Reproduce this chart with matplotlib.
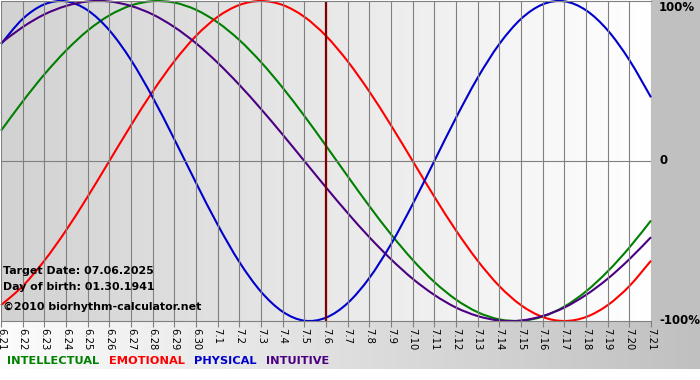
import numpy as np
import matplotlib.pyplot as plt
from matplotlib.colors import LinearSegmentedColormap
from matplotlib.patches import Rectangle, PathPatch
from matplotlib.path import Path

# day labels along the bottom (6.21 .. 7.21)
days = ['6.21', '6.22', '6.23', '6.24', '6.25', '6.26', '6.27', '6.28', '6.29', '6.30',
        '7.1', '7.2', '7.3', '7.4', '7.5', '7.6', '7.7', '7.8', '7.9', '7.10',
        '7.11', '7.12', '7.13', '7.14', '7.15', '7.16', '7.17', '7.18', '7.19', '7.20', '7.21']

# cycle values per day, -1 .. 1
intellectual = [0.189, 0.372, 0.541, 0.690, 0.815, 0.910, 0.972, 0.999, 0.990, 0.945,
                0.866, 0.756, 0.618, 0.458, 0.282, 0.095, -0.095, -0.282, -0.458, -0.618,
                -0.756, -0.866, -0.945, -0.990, -0.999, -0.972, -0.910, -0.815, -0.690, -0.541,
                -0.372]
emotional = [-0.901, -0.782, -0.623, -0.434, -0.223, 0.0, 0.223, 0.434, 0.623, 0.782,
             0.901, 0.975, 1.0, 0.975, 0.901, 0.782, 0.623, 0.434, 0.223, 0.0,
             -0.223, -0.434, -0.623, -0.782, -0.901, -0.975, -1.0, -0.975, -0.901, -0.782,
             -0.623]
physical = [0.731, 0.888, 0.979, 0.998, 0.942, 0.817, 0.631, 0.398, 0.136, -0.136,
            -0.398, -0.631, -0.817, -0.942, -0.998, -0.979, -0.888, -0.731, -0.520, -0.270,
            0.0, 0.270, 0.520, 0.731, 0.888, 0.979, 0.998, 0.942, 0.817, 0.631,
            0.398]
intuitive = [0.736, 0.837, 0.916, 0.969, 0.997, 0.997, 0.969, 0.916, 0.837, 0.736,
             0.614, 0.476, 0.325, 0.165, 0.0, -0.165, -0.325, -0.476, -0.614, -0.736,
             -0.837, -0.916, -0.969, -0.997, -0.997, -0.969, -0.916, -0.837, -0.736, -0.614,
             -0.476]

target_day = '7.6'
info_lines = ['Target Date: 07.06.2025', 'Day of birth: 01.30.1941',
              '\u00a92010 biorhythm-calculator.net']
y_labels = [(1, '100%'), (0, '0'), (-1, '-100%')]

series = [('INTELLECTUAL', intellectual, '#008000'),
          ('EMOTIONAL', emotional, '#ff0000'),
          ('PHYSICAL', physical, '#0000cc'),
          ('INTUITIVE', intuitive, '#4b0082')]


def spline_path(xs, ys):
    # smooth (catmull-rom style) bezier path passing through every point
    p = np.column_stack([xs, ys]).astype(float)
    ext = np.vstack([p[0], p, p[-1]])
    verts = [p[0]]
    codes = [Path.MOVETO]
    for i in range(len(p) - 1):
        p0, p1, p2, p3 = ext[i], ext[i + 1], ext[i + 2], ext[i + 3]
        verts += [p1 + (p2 - p0) / 6, p2 - (p3 - p1) / 6, p2]
        codes += [Path.CURVE4] * 3
    return Path(verts, codes)


W, H = 700, 380
fig = plt.figure(figsize=(W / 100, H / 100), dpi=100)
fig.patch.set_facecolor('white')

# background panels in pixel coords
bg = fig.add_axes([0, 0, 1, 1])
grad = np.linspace(0, 1, 256)[None, :]
bg.imshow(grad, cmap=LinearSegmentedColormap.from_list('p', ['#d2d2d2', '#ffffff']),
          extent=[1, 651, 321, 1], aspect='auto')
bg.imshow(grad, cmap=LinearSegmentedColormap.from_list('b', ['#fcfcfc', '#c0c0c0']),
          extent=[0, W, 369, 321], aspect='auto')
bg.add_patch(Rectangle((651, 0), 49, 321, color='#c0c0c0', lw=0))
bg.set_xlim(0, W)
bg.set_ylim(H, 0)
bg.axis('off')

ax = fig.add_axes([1 / W, 59 / H, 650 / W, 320 / H])
ax.patch.set_alpha(0)
x = np.arange(len(days))
ax.set_xlim(0, len(days) - 1)
ax.set_ylim(-1, 1)

ax.set_xticks(x)
ax.set_xticklabels(days)
ax.grid(axis='x', color='#808080', lw=0.8)
ax.axhline(0, color='#808080', lw=0.8)
ax.set_yticks([])
ax.tick_params(axis='x', direction='out', length=4, color='#808080', width=0.8,
               pad=1, labelsize=7.2, labelrotation=-90)
for s in ['left', 'right']:
    ax.spines[s].set_visible(False)
for s in ['top', 'bottom']:
    ax.spines[s].set_color('#808080')
    ax.spines[s].set_linewidth(0.8)

for name, vals, col in series:
    ax.add_patch(PathPatch(spline_path(x, vals), facecolor='none', edgecolor=col,
                           lw=1.5, clip_on=False))

ax.axvline(days.index(target_day), color='#800000', lw=1.6)

tr = ax.get_yaxis_transform()
for v, lab in y_labels:
    ax.text(1 + 8 / 650, v, lab, transform=tr, fontsize=8.5, fontweight='bold',
            va='top' if v == 1 else 'center', ha='left')

for i, line in enumerate(info_lines):
    fig.text(3 / W, 1 - [271, 287, 307][i] / H, line, fontsize=7.9,
             fontweight='bold', va='center', ha='left')

prev = None
for name, vals, col in series:
    if prev is None:
        prev = fig.text(7 / W, 1 - 361 / H, name, color=col, fontsize=8.2,
                        fontweight='bold', va='center', ha='left')
    else:
        prev = ax.annotate(' ' + name, xy=(1, 0), xycoords=prev, xytext=(4, 0),
                           textcoords='offset points', color=col, fontsize=8.2,
                           fontweight='bold', va='bottom', ha='left')

fig.savefig('out.png', dpi=100)
